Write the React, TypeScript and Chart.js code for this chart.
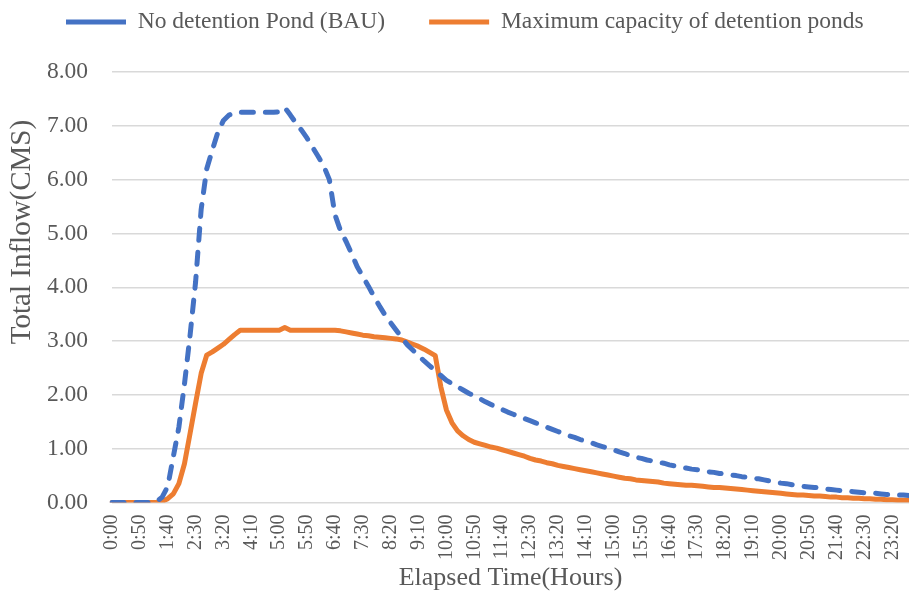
import React, { useEffect, useRef } from 'react';
import { Chart, registerables } from 'chart.js';

Chart.register(...registerables);

const timeLabels = [
  '0:00', '0:10', '0:20', '0:30', '0:40', '0:50',
  '1:00', '1:10', '1:20', '1:30', '1:40', '1:50',
  '2:00', '2:10', '2:20', '2:30', '2:40', '2:50',
  '3:00', '3:10', '3:20', '3:30', '3:40', '3:50',
  '4:00', '4:10', '4:20', '4:30', '4:40', '4:50',
  '5:00', '5:10', '5:20', '5:30', '5:40', '5:50',
  '6:00', '6:10', '6:20', '6:30', '6:40', '6:50',
  '7:00', '7:10', '7:20', '7:30', '7:40', '7:50',
  '8:00', '8:10', '8:20', '8:30', '8:40', '8:50',
  '9:00', '9:10', '9:20', '9:30', '9:40', '9:50',
  '10:00', '10:10', '10:20', '10:30', '10:40', '10:50',
  '11:00', '11:10', '11:20', '11:30', '11:40', '11:50',
  '12:00', '12:10', '12:20', '12:30', '12:40', '12:50',
  '13:00', '13:10', '13:20', '13:30', '13:40', '13:50',
  '14:00', '14:10', '14:20', '14:30', '14:40', '14:50',
  '15:00', '15:10', '15:20', '15:30', '15:40', '15:50',
  '16:00', '16:10', '16:20', '16:30', '16:40', '16:50',
  '17:00', '17:10', '17:20', '17:30', '17:40', '17:50',
  '18:00', '18:10', '18:20', '18:30', '18:40', '18:50',
  '19:00', '19:10', '19:20', '19:30', '19:40', '19:50',
  '20:00', '20:10', '20:20', '20:30', '20:40', '20:50',
  '21:00', '21:10', '21:20', '21:30', '21:40', '21:50',
  '22:00', '22:10', '22:20', '22:30', '22:40', '22:50',
  '23:00', '23:10', '23:20', '23:30', '23:40', '23:50',
];

// No detention Pond (BAU)
const noPondInflow = [
  0, 0, 0, 0, 0, 0, 0, 0, 0.02, 0.1,
  0.3, 0.85, 1.4, 2.2, 3.1, 4.1, 5.45, 6.2, 6.55, 6.88,
  7.1, 7.2, 7.25, 7.25, 7.25, 7.25, 7.25, 7.25, 7.25, 7.25,
  7.26, 7.34, 7.2, 7.05, 6.92, 6.77, 6.6, 6.43, 6.25, 6.0,
  5.35, 5.05, 4.85, 4.62, 4.38, 4.2, 4.02, 3.83, 3.65, 3.48,
  3.34, 3.2, 3.06, 2.93, 2.83, 2.73, 2.63, 2.54, 2.45, 2.36,
  2.27, 2.21, 2.15, 2.09, 2.03, 1.98, 1.93, 1.87, 1.82, 1.77,
  1.73, 1.68, 1.64, 1.6, 1.56, 1.52, 1.48, 1.44, 1.4, 1.36,
  1.32, 1.28, 1.24, 1.21, 1.17, 1.14, 1.11, 1.07, 1.04, 1.01,
  0.98, 0.94, 0.91, 0.87, 0.84, 0.82, 0.79, 0.77, 0.75, 0.73,
  0.7, 0.68, 0.66, 0.64, 0.62, 0.61, 0.59, 0.57, 0.56, 0.54,
  0.53, 0.51, 0.5, 0.48, 0.47, 0.45, 0.44, 0.42, 0.4, 0.38,
  0.36, 0.35, 0.33, 0.31, 0.3, 0.29, 0.28, 0.27, 0.25, 0.24,
  0.23, 0.22, 0.21, 0.2, 0.19, 0.18, 0.17, 0.17, 0.16, 0.15,
  0.15, 0.14, 0.14, 0.13,
];

// Maximum capacity of detention ponds
const maxCapacityInflow = [
  0, 0, 0, 0, 0, 0, 0, 0, 0, 0.02,
  0.07, 0.16, 0.35, 0.72, 1.28, 1.85, 2.4, 2.74, 2.8, 2.87,
  2.94, 3.03, 3.12, 3.2, 3.2, 3.2, 3.2, 3.2, 3.2, 3.2,
  3.2, 3.25, 3.2, 3.2, 3.2, 3.2, 3.2, 3.2, 3.2, 3.2,
  3.2, 3.19, 3.17, 3.15, 3.13, 3.11, 3.1, 3.08, 3.07, 3.06,
  3.05, 3.04, 3.02, 2.98, 2.94, 2.9, 2.85, 2.79, 2.73, 2.15,
  1.72, 1.48, 1.33, 1.24, 1.17, 1.12, 1.09, 1.06, 1.03, 1.01,
  0.98, 0.95, 0.92, 0.89, 0.86, 0.82, 0.79, 0.77, 0.74, 0.72,
  0.69, 0.67, 0.65, 0.63, 0.61, 0.59, 0.57, 0.55, 0.53, 0.51,
  0.49, 0.47, 0.45, 0.44, 0.42, 0.41, 0.4, 0.39, 0.38, 0.36,
  0.35, 0.34, 0.33, 0.32, 0.32, 0.31, 0.3, 0.29, 0.28, 0.28,
  0.27, 0.26, 0.25, 0.24, 0.23, 0.22, 0.21, 0.2, 0.19, 0.18,
  0.17, 0.16, 0.15, 0.14, 0.14, 0.13, 0.12, 0.12, 0.11, 0.1,
  0.1, 0.09, 0.09, 0.08, 0.08, 0.07, 0.07, 0.06, 0.06, 0.05,
  0.05, 0.04, 0.04, 0.04,
];

const seriesNames = ['No detention Pond (BAU)', 'Maximum capacity of detention ponds'];
const xAxisTitle = 'Elapsed Time(Hours)';
const yAxisTitle = 'Total Inflow(CMS)';
const labelEvery = 5;

const FONT = '"Liberation Serif", "Times New Roman", serif';
const TEXT = '#595959';

export default function App() {
  const canvasRef = useRef<HTMLCanvasElement | null>(null);

  useEffect(() => {
    const canvas = canvasRef.current;
    if (!canvas) return;

    const yTitlePlugin = {
      id: 'yTitleText',
      afterDraw(chart: any) {
        const ctx = chart.ctx;
        ctx.save();
        ctx.translate(22, 232);
        ctx.rotate(-Math.PI / 2);
        ctx.font = `29px ${FONT}`;
        ctx.fillStyle = TEXT;
        ctx.textAlign = 'center';
        ctx.textBaseline = 'middle';
        ctx.fillText(yAxisTitle, 0, 0);
        ctx.restore();
      },
    };

    const chart = new Chart(canvas, {
      type: 'line',
      data: {
        labels: timeLabels,
        datasets: [
          {
            label: seriesNames[0],
            data: noPondInflow,
            borderColor: '#4472C4',
            backgroundColor: '#4472C4',
            borderWidth: 5,
            borderDash: [12, 12],
            borderCapStyle: 'round',
            borderJoinStyle: 'round',
            pointRadius: 0,
            tension: 0,
            fill: false,
          },
          {
            label: seriesNames[1],
            data: maxCapacityInflow,
            borderColor: '#ED7D31',
            backgroundColor: '#ED7D31',
            borderWidth: 5,
            borderCapStyle: 'round',
            borderJoinStyle: 'round',
            pointRadius: 0,
            tension: 0,
            fill: false,
          },
        ],
      },
      options: {
        animation: false,
        responsive: false,
        devicePixelRatio: 1,
        layout: { padding: { top: -33.75, left: 22, right: 0, bottom: 0 } },
        plugins: {
          legend: {
            position: 'top',
            align: 'start',
            labels: {
              usePointStyle: true,
              pointStyle: 'line',
              pointStyleWidth: 60,
              boxHeight: 20,
              padding: 44,
              color: TEXT,
              font: { family: FONT, size: 23.5 },
            },
          },
          title: {
            display: true,
            text: '',
            position: 'top',
            weight: 500,
            font: { size: 10, lineHeight: 1 },
            padding: { top: 18.25, bottom: 0 },
          },
          tooltip: { enabled: false },
        },
        scales: {
          x: {
            grid: { display: false, drawTicks: false },
            border: { display: false },
            ticks: {
              autoSkip: false,
              maxRotation: 90,
              minRotation: 90,
              padding: 12,
              color: TEXT,
              font: { family: FONT, size: 20 },
              callback: (_v: any, i: number) => (i % labelEvery === 0 ? timeLabels[i] : null),
            },
            title: {
              display: true,
              text: xAxisTitle,
              color: TEXT,
              font: { family: FONT, size: 26 },
              padding: { top: 0, bottom: 7 },
            },
            afterFit: (s: any) => {
              s.height = 98.5;
              s.paddingLeft = 0;
              s.paddingRight = 0;
            },
          },
          y: {
            min: 0,
            max: 8,
            grid: { color: '#d9d9d9', lineWidth: 1.5, drawTicks: false },
            border: { display: false },
            ticks: {
              stepSize: 1,
              padding: 24,
              color: TEXT,
              font: { family: FONT, size: 23.5 },
              callback: (v: any) => Number(v).toFixed(2),
            },
            afterFit: (s: any) => {
              s.width = 90;
              s.paddingTop = 0;
              s.paddingBottom = 0;
            },
          },
        },
      },
      plugins: [yTitlePlugin],
    });

    return () => chart.destroy();
  }, []);

  return (
    <div style={{ position: 'absolute', left: 0, top: 0, width: 909, height: 601, background: '#ffffff', overflow: 'hidden' }}>
      <canvas ref={canvasRef} width={909} height={601} style={{ display: 'block' }} />
    </div>
  );
}
